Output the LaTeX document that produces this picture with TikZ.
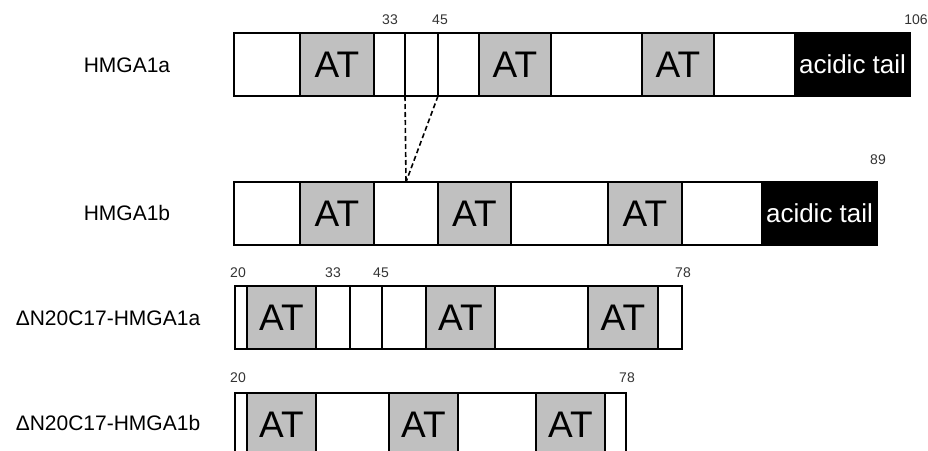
\documentclass[tikz,border=0pt]{standalone}
\usepackage{fontspec}
\setmainfont{Liberation Sans}
\definecolor{atgray}{RGB}{192,192,192}
\tikzset{
  seg/.style={draw, line width=1.2pt, fill=white, rectangle, inner sep=0pt,
    outer sep=0pt, anchor=north west, minimum height=63pt,
    font=\fontsize{37}{37}\selectfont},
  atbox/.style={seg, fill=atgray},
  tail/.style={seg, fill=black, text=white, font=\fontsize{26}{26}\selectfont},
  resnum/.style={font=\fontsize{14}{14}\selectfont, text=black!80},
  protname/.style={font=\fontsize{21}{21}\selectfont},
  splice/.style={line width=1.6pt, dash pattern=on 5pt off 3pt}
}
\begin{document}
\begin{tikzpicture}[x=1pt, y=-1pt]
  \useasboundingbox (0, 0) rectangle (928, 450);
  \clip (0, 0) rectangle (928, 450);
  % HMGA1a
  \foreach \l/\r/\s/\t [count=\i] in {234/300/seg/{}, 300/374/atbox/AT,
      374/405/seg/{}, 405/438/seg/{}, 438/479/seg/{}, 479/551/atbox/AT,
      551/642/seg/{}, 642/714/atbox/AT, 714/795/seg/{}, 795/910/tail/acidic tail} {
    \node[\s, minimum width={(\r-\l)*1pt}] (a\i) at (\l, 33) {\t};
  }
  % HMGA1b
  \foreach \l/\r/\s/\t [count=\i] in {234/300/seg/{}, 300/374/atbox/AT,
      374/438/seg/{}, 438/511/atbox/AT, 511/608/seg/{}, 608/682/atbox/AT,
      682/762/seg/{}, 762/877/tail/acidic tail} {
    \node[\s, minimum width={(\r-\l)*1pt}] (b\i) at (\l, 182) {\t};
  }
  % deletion N20C17 of HMGA1a
  \foreach \l/\r/\s/\t [count=\i] in {235/247/seg/{}, 247/316/atbox/AT,
      316/350/seg/{}, 350/382/seg/{}, 382/426/seg/{}, 426/495/atbox/AT,
      495/588/seg/{}, 588/658/atbox/AT, 658/682/seg/{}} {
    \node[\s, minimum width={(\r-\l)*1pt}] (c\i) at (\l, 286) {\t};
  }
  % deletion N20C17 of HMGA1b
  \foreach \l/\r/\s/\t [count=\i] in {235/247/seg/{}, 247/316/atbox/AT,
      316/389/seg/{}, 389/458/atbox/AT, 458/536/seg/{}, 536/605/atbox/AT,
      605/626/seg/{}} {
    \node[\s, minimum width={(\r-\l)*1pt}] (d\i) at (\l, 393) {\t};
  }
  % spliced-out part
  \draw[splice] (a4.south west) -- (b3.north);
  \draw[splice] (a4.south east) -- (b3.north);
  % residue numbers
  \node[resnum] (n33a) at (390, 20) {33};
  \node[resnum] (n45a) at (440, 20) {45};
  \node[resnum] (n106) at (916, 20) {106};
  \node[resnum] (n89) at (878, 160) {89};
  \node[resnum] (n20c) at (238, 273) {20};
  \node[resnum] (n33c) at (333, 273) {33};
  \node[resnum] (n45c) at (381, 273) {45};
  \node[resnum] (n78c) at (683, 273) {78};
  \node[resnum] (n20d) at (238, 378) {20};
  \node[resnum] (n78d) at (627, 378) {78};
  % names
  \node[protname] (hmga1a) at (127, 65) {HMGA1a};
  \node[protname] (hmga1b) at (127, 213) {HMGA1b};
  \node[protname] (dna) at (108, 318) {ΔN20C17-HMGA1a};
  \node[protname] (dnb) at (108, 423) {ΔN20C17-HMGA1b};
\end{tikzpicture}
\end{document}
